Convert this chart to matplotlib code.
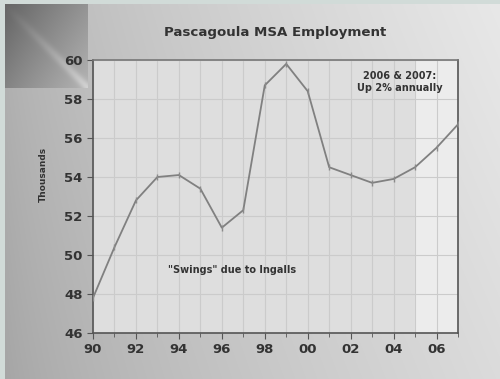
import numpy as np
import matplotlib
matplotlib.use("Agg")
import matplotlib.pyplot as plt
from matplotlib.ticker import MultipleLocator, FuncFormatter

# Pascagoula MSA employment, thousands
years = [1990, 1991, 1992, 1993, 1994, 1995, 1996, 1997, 1998,
         1999, 2000, 2001, 2002, 2003, 2004, 2005, 2006, 2007]
employment = [47.8, 50.4, 52.8, 54.0, 54.1, 53.4, 51.4, 52.3, 58.7,
              59.8, 58.4, 54.5, 54.1, 53.7, 53.9, 54.5, 55.5, 56.7]

title = "Pascagoula MSA Employment"
ylabel = "Thousands"
note_recent = "2006 & 2007:\nUp 2% annually"
note_swings = "\"Swings\" due to Ingalls"
highlight_start = 2005

W, H = 500, 379
fig = plt.figure(figsize=(W / 100, H / 100), dpi=100)

# slide backdrop: grey horizontal gradient with a darker folded corner
yy, xx = np.mgrid[0:H, 0:W]
bg = 0.64 + 0.22 * (xx / W) ** 0.7
bg = bg + 0.05 * (1 - yy / H)
corner = np.clip(1 - (xx + yy) / 200.0, 0, 1)
in_corner = (xx < 88) & (yy < 88)
streak = np.exp(-((xx - yy) / 6.0) ** 2) * np.clip((xx + yy) / 170.0, 0, 1)
bg = np.where(in_corner, bg - 0.32 * corner + 0.12 * streak, bg)
bg = np.clip(bg, 0, 1)
rgb = np.dstack([bg, bg, bg])
rgb[:, :5] = [0.82, 0.86, 0.85]
rgb[:4, :] = [0.82, 0.86, 0.85]
bgax = fig.add_axes([0, 0, 1, 1])
bgax.imshow(rgb, aspect="auto", extent=[0, 1, 0, 1])
bgax.axis("off")

ax = fig.add_axes([0.186, 0.1214, 0.730, 0.7203])
ax.set_facecolor("#dedede")
ax.set_xlim(1990, 2007)
ax.set_ylim(46, 60)

# lighter band over the latest years
ax.axvspan(highlight_start, 2007, color="#ececec", zorder=0)

ax.xaxis.set_major_locator(MultipleLocator(2))
ax.xaxis.set_minor_locator(MultipleLocator(1))
ax.yaxis.set_major_locator(MultipleLocator(2))
ax.xaxis.set_major_formatter(FuncFormatter(lambda v, p: f"{int(v) % 100:02d}"))
ax.grid(True, which="both", axis="x", color="#cbcbcb", lw=0.8)
ax.grid(True, which="major", axis="y", color="#cbcbcb", lw=0.8)
ax.set_axisbelow(True)

ax.plot(years, employment, color="#808080", lw=1.3, marker="|",
        markersize=4, markeredgecolor="#8a8a8a", zorder=3)

for s in ax.spines.values():
    s.set_color("#555555")
    s.set_linewidth(1.2)
ax.spines["top"].set_color("#777777")

ax.tick_params(which="both", direction="out", color="#555555",
               labelsize=9.5, labelcolor="#333333")
ax.tick_params(which="major", length=4)
ax.tick_params(which="minor", length=3)
for lab in ax.get_xticklabels() + ax.get_yticklabels():
    lab.set_fontweight("bold")

fig.text(0.55, 0.913, title, ha="center", va="center", fontsize=9.6,
         fontweight="bold", color="#333333")
fig.text(0.086, 0.54, ylabel, ha="center", va="center", rotation=90,
         fontsize=6.5, fontweight="bold", color="#333333")
ax.text(0.84, 0.92, note_recent, transform=ax.transAxes, ha="center",
        va="center", fontsize=7, fontweight="bold", color="#333333",
        linespacing=1.3)
ax.text(0.38, 0.23, note_swings, transform=ax.transAxes, ha="center",
        va="center", fontsize=7, fontweight="bold", color="#333333")

fig.savefig("out.png", dpi=100)
